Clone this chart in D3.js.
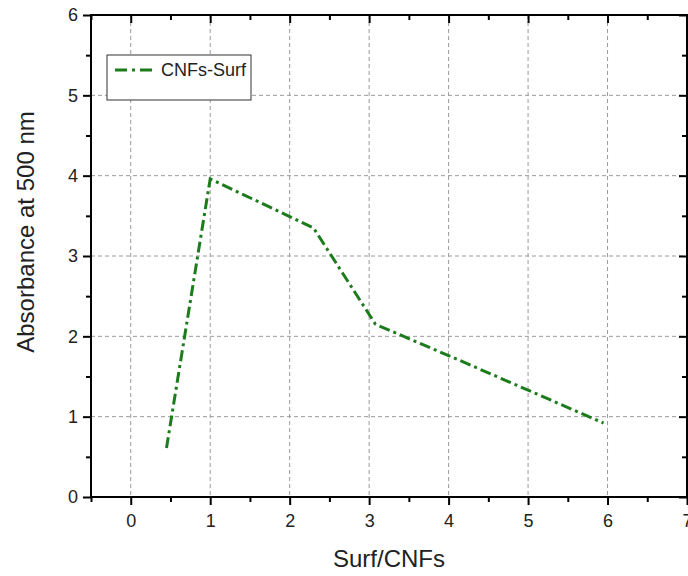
<!DOCTYPE html>
<html>
<head>
<meta charset="utf-8">
<script src="https://cdn.jsdelivr.net/npm/d3@7"></script>
<style>
    body{margin:0;background:#fff;}
    svg{display:block;font-family:Arial,"Liberation Sans",sans-serif;}
</style>
</head>
<body>
<div class="canvas"></div>
<script>
// data
var ratio = [0.45, 1.0, 2.3, 3.08, 4.0, 5.0, 5.95];
var absorbance = [0.61, 3.96, 3.35, 2.15, 1.76, 1.33, 0.92];
var xTicks = [0, 1, 2, 3, 4, 5, 6, 7];
var yTicks = [0, 1, 2, 3, 4, 5, 6];
var seriesName = 'CNFs-Surf';

var W = 688, H = 576;
var margin = {t:15,r:1,b:79,l:91};
var width = W - margin.l - margin.r,
    height = H - margin.t - margin.b;

var green = '#1c7c1c';

var svg = d3.select('.canvas')
    .append('svg')
    .attr('width',W)
    .attr('height',H);

var plot = svg.append('g')
    .attr('transform','translate('+margin.l+','+margin.t+')');

var x = d3.scaleLinear().domain([-0.5,7]).range([0,width]);
var y = d3.scaleLinear().domain([0,6]).range([height,0]);

//grid
plot.selectAll('.gx')
    .data(xTicks.filter(function(d){return d>=0 && d<7;}))
    .enter().append('line')
    .attr('x1',function(d){return x(d);})
    .attr('x2',function(d){return x(d);})
    .attr('y1',0).attr('y2',height)
    .style('stroke','#9a9a9a').style('stroke-width',1)
    .style('stroke-dasharray','4,3');

plot.selectAll('.gy')
    .data(yTicks.filter(function(d){return d>0 && d<6;}))
    .enter().append('line')
    .attr('y1',function(d){return y(d);})
    .attr('y2',function(d){return y(d);})
    .attr('x1',0).attr('x2',width)
    .style('stroke','#9a9a9a').style('stroke-width',1)
    .style('stroke-dasharray','4,3');

//axes
var minorX = d3.range(-0.5,7.01,0.5).filter(function(d){return d%1!==0;});
var minorY = d3.range(0.5,6,1);

function styleAxis(g){
    g.select('.domain').remove();
    g.selectAll('line').style('stroke','#000').style('stroke-width',2);
    g.selectAll('text').style('font-size','18px').style('fill','#222');
}

plot.append('g')
    .attr('transform','translate(0,'+height+')')
    .call(d3.axisBottom(x).tickValues(xTicks).tickSize(8).tickPadding(9).tickFormat(d3.format('d')))
    .call(styleAxis);
plot.append('g')
    .attr('transform','translate(0,'+height+')')
    .call(d3.axisBottom(x).tickValues(minorX).tickSize(5).tickFormat(''))
    .call(styleAxis);

plot.append('g')
    .call(d3.axisLeft(y).tickValues(yTicks).tickSize(8).tickPadding(5).tickFormat(d3.format('d')))
    .call(styleAxis);
plot.append('g')
    .call(d3.axisLeft(y).tickValues(minorY).tickSize(5).tickFormat(''))
    .call(styleAxis);

plot.append('g')
    .call(d3.axisTop(x).tickValues(xTicks).tickSize(-8).tickFormat(''))
    .call(styleAxis);
plot.append('g')
    .call(d3.axisTop(x).tickValues(minorX).tickSize(-5).tickFormat(''))
    .call(styleAxis);

plot.append('g')
    .attr('transform','translate('+width+',0)')
    .call(d3.axisRight(y).tickValues(yTicks).tickSize(-8).tickFormat(''))
    .call(styleAxis);
plot.append('g')
    .attr('transform','translate('+width+',0)')
    .call(d3.axisRight(y).tickValues(minorY).tickSize(-5).tickFormat(''))
    .call(styleAxis);

//frame
plot.append('rect')
    .attr('width',width).attr('height',height)
    .style('fill','none').style('stroke','#000').style('stroke-width',2);

//series
var line = d3.line()
    .x(function(d){return x(d[0]);})
    .y(function(d){return y(d[1]);});

plot.append('path')
    .datum(d3.zip(ratio,absorbance))
    .attr('d',line)
    .style('fill','none')
    .style('stroke',green)
    .style('stroke-width',3)
    .style('stroke-dasharray','11,4,3,4');

//legend
var legend = plot.append('g').attr('transform','translate(16,40)');
legend.append('rect')
    .attr('width',144).attr('height',45)
    .style('fill','#fff').style('stroke','#333').style('stroke-width',1);
legend.append('line')
    .attr('x1',8).attr('x2',46).attr('y1',15).attr('y2',15)
    .style('stroke',green).style('stroke-width',3)
    .style('stroke-dasharray','12,5,3,5');
legend.append('text')
    .attr('x',54).attr('y',21)
    .style('font-size','18px').style('fill','#222')
    .text(seriesName);

//axis titles
svg.append('text')
    .attr('x',margin.l+width/2).attr('y',567)
    .attr('text-anchor','middle')
    .style('font-size','24px').style('fill','#222')
    .text('Surf/CNFs');

svg.append('text')
    .attr('transform','translate(34,232) rotate(-90)')
    .attr('text-anchor','middle')
    .style('font-size','24px').style('fill','#222')
    .text('Absorbance at 500 nm');
</script>
</body>
</html>
